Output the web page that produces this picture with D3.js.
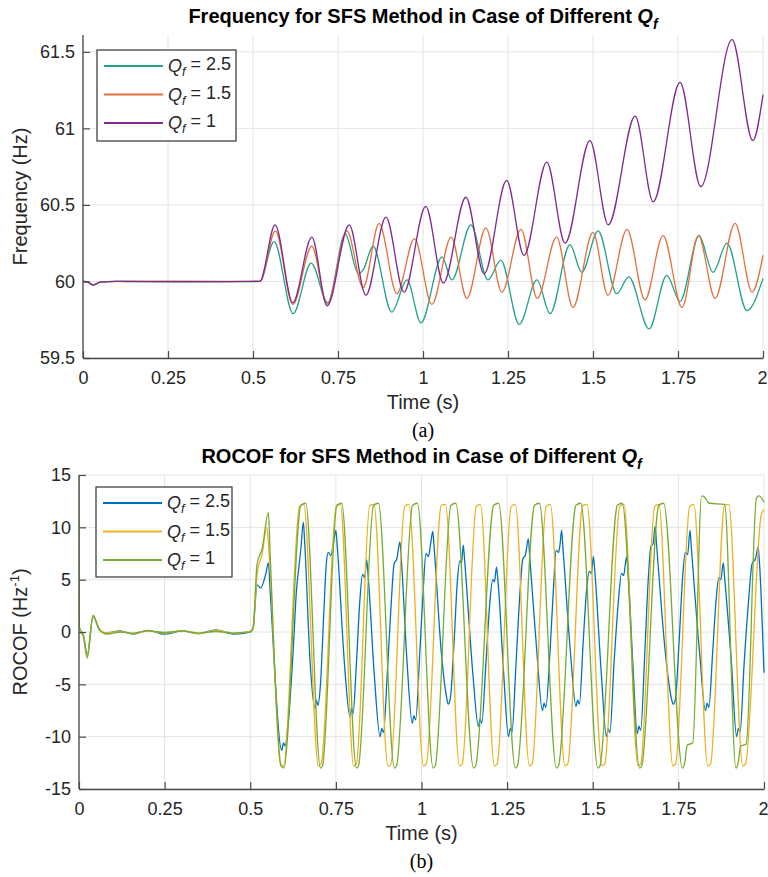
<!DOCTYPE html>
<html lang="en">
<head>
<meta charset="UTF-8">
<title>SFS Method - Frequency and ROCOF</title>
<script src="https://d3js.org/d3.v7.min.js"></script>
<style>
  body { margin: 0; background: #fff; }
  svg text { font-family: "Liberation Sans", Arial, Helvetica, sans-serif; }
  .caption { font-family: "Liberation Serif", "Times New Roman", serif !important; }
</style>
</head>
<body>
<svg id="chart" width="768" height="877"></svg>
<script>
// ---- data: [time (s), value] ----
const timeTicks = [0, 0.25, 0.5, 0.75, 1, 1.25, 1.5, 1.75, 2];
const freqTicks = [59.5, 60, 60.5, 61, 61.5];
const rocofTicks = [-15, -10, -5, 0, 5, 10, 15];
const qfLabels = ["2.5", "1.5", "1"];

// (a) frequency
const freqQf25 = [[0,60],[0.015,59.995],[0.03,59.978],[0.05,59.995],[0.1,60],[0.3,59.998],[0.52,60],
  [0.562,60.26],[0.618,59.79],[0.671,60.12],[0.72,59.86],[0.771,60.31],[0.81,60.05],[0.825,60.08],
  [0.853,60.23],[0.908,59.8],[0.953,60.01],[0.994,59.73],[1.056,60.16],[1.085,60.01],[1.141,60.37],
  [1.191,60.01],[1.229,60.14],[1.283,59.72],[1.335,60.01],[1.374,59.79],[1.432,60.24],[1.467,60.06],
  [1.515,60.33],[1.57,59.92],[1.605,60.03],[1.665,59.69],[1.717,60.04],[1.756,59.87],[1.812,60.3],
  [1.853,60.06],[1.894,60.25],[1.953,59.81],[2,60.02]];
const freqQf15 = [[0,60],[0.015,59.995],[0.03,59.978],[0.05,59.995],[0.1,60],[0.3,60.002],[0.52,60],
  [0.566,60.33],[0.617,59.85],[0.673,60.23],[0.718,59.85],[0.776,60.33],[0.824,59.96],[0.871,60.38],
  [0.923,59.92],[0.975,60.28],[1.026,59.85],[1.083,60.29],[1.129,59.89],[1.185,60.35],[1.232,59.93],
  [1.288,60.34],[1.336,59.89],[1.393,60.29],[1.441,59.83],[1.5,60.32],[1.544,59.91],[1.6,60.34],
  [1.653,59.88],[1.706,60.3],[1.762,59.83],[1.81,60.3],[1.859,59.89],[1.918,60.38],[1.968,59.93],[2,60.17]];
const freqQf1 = [[0,60],[0.015,59.995],[0.03,59.976],[0.05,59.995],[0.1,60],[0.3,59.999],[0.52,60],
  [0.565,60.37],[0.617,59.86],[0.673,60.29],[0.718,59.84],[0.783,60.37],[0.832,59.91],[0.891,60.42],
  [0.944,59.93],[1.008,60.49],[1.06,59.99],[1.126,60.55],[1.18,60.05],[1.246,60.66],[1.297,60.17],
  [1.364,60.78],[1.418,60.25],[1.491,60.92],[1.545,60.37],[1.624,61.08],[1.677,60.52],[1.756,61.3],
  [1.817,60.62],[1.909,61.58],[1.97,60.92],[2,61.22]];

// (b) ROCOF
const rocofQf25 = [[0,0],[0.012,-0.2],[0.024,-2.2],[0.041,1.5],[0.06,0.2],[0.08,-0.1],[0.12,0.1],[0.16,-0.2],
  [0.2,0.15],[0.25,-0.2],[0.3,0.1],[0.35,-0.15],[0.4,0.2],[0.45,-0.2],[0.5,0],[0.508,0.3],[0.52,4.5],
  [0.53,4.2],[0.545,5.5],[0.553,6.6],[0.558,4],
  [0.592,-11.3],[0.597,-10.6],[0.602,-10.9],[0.61,-9],[0.625,-2],[0.635,4],[0.642,6.2],[0.648,8],[0.655,10.5],[0.659,8.5],
  [0.675,-3],[0.689,-7.3],[0.693,-6.5],[0.698,-7],[0.705,-5],[0.715,2],[0.722,6.5],[0.728,7.6],[0.735,7.3],[0.743,8.5],[0.75,9.7],[0.754,8.2],
  [0.775,-3],[0.791,-8.1],[0.796,-7.3],[0.8,-7.8],[0.81,-3],[0.82,3],[0.828,5.5],[0.834,5.2],[0.84,6.9],[0.844,5.5],
  [0.862,-4],[0.879,-10],[0.884,-9.2],[0.889,-9.6],[0.9,-4],[0.912,3],[0.92,6.5],[0.928,7],[0.937,8.6],[0.941,7],
  [0.958,-3],[0.973,-8.7],[0.978,-8],[0.983,-8.4],[0.995,-2],[1.005,4],[1.013,7.5],[1.02,7.2],[1.027,8.5],[1.033,9.6],[1.037,8],
  [1.058,-2],[1.073,-6.2],[1.078,-6.9],[1.084,-6.4],[1.095,-1],[1.105,5],[1.112,6.8],[1.117,6.6],[1.122,8.3],[1.126,6.8],
  [1.15,-4],[1.166,-9],[1.171,-8.3],[1.176,-8.7],[1.188,-3],[1.2,3],[1.208,5],[1.213,4.8],[1.219,6.2],[1.223,5],
  [1.24,-4],[1.254,-10],[1.259,-9.2],[1.264,-9.6],[1.276,-3],[1.288,4],[1.296,7],[1.303,7.3],[1.312,8.9],[1.316,7.2],
  [1.337,-2],[1.353,-7.5],[1.358,-6.8],[1.363,-7.2],[1.375,-2],[1.385,4],[1.393,7.8],[1.4,7.6],[1.405,8.5],[1.409,9.7],[1.413,8],
  [1.435,-2],[1.451,-7.1],[1.456,-6.5],[1.461,-6.9],[1.472,-1],[1.482,4],[1.49,5.8],[1.496,5.6],[1.502,7.2],[1.506,5.8],
  [1.525,-4],[1.54,-10],[1.545,-9.2],[1.55,-9.6],[1.562,-3],[1.575,3],[1.584,5.6],[1.59,5.4],[1.599,7.2],[1.603,5.8],
  [1.617,-3],[1.63,-9.7],[1.635,-9],[1.64,-9.4],[1.652,-2],[1.662,5],[1.67,8.2],[1.676,8.4],[1.682,10.1],[1.686,8.5],
  [1.712,-2],[1.73,-6.4],[1.735,-6.9],[1.741,-6.5],[1.752,-1],[1.762,5],[1.77,7.6],[1.777,7.4],[1.784,9.7],[1.788,8],
  [1.812,-2],[1.829,-7.5],[1.834,-6.8],[1.839,-7.2],[1.85,-2],[1.86,3],[1.868,5.2],[1.874,5],[1.881,6.6],[1.885,5.2],
  [1.905,-3],[1.92,-10],[1.925,-9.2],[1.93,-9.6],[1.942,-3],[1.955,3],[1.965,6.5],[1.975,7],[1.983,8.1],[1.987,6.5],[2,-3.9]];
const rocofQf15 = [[0,0],[0.012,-0.3],[0.024,-2.3],[0.041,1.5],[0.06,0.3],[0.08,-0.1],[0.12,0.05],[0.16,-0.15],
  [0.2,0.1],[0.25,-0.1],[0.3,0.1],[0.35,-0.15],[0.4,0.15],[0.45,-0.1],[0.5,0.05],[0.508,0.3],[0.52,5.5],
  [0.535,7.5],[0.548,10],[0.556,7],
  [0.588,-12.6],[0.597,-12.8],[0.644,12],[0.656,12.2],
  [0.699,-12.8],[0.707,-12.6],[0.751,12],[0.763,12.2],
  [0.802,-12.8],[0.81,-12.6],[0.849,12.1],[0.861,12.2],
  [0.902,-12.8],[0.91,-12.7],[0.951,12],[0.963,12.2],
  [1.006,-12.8],[1.014,-12.6],[1.058,12.1],[1.07,12.2],
  [1.111,-12.8],[1.119,-12.6],[1.16,12],[1.172,12.2],
  [1.213,-12.8],[1.221,-12.6],[1.262,12],[1.274,12.2],
  [1.315,-12.8],[1.323,-12.6],[1.364,12],[1.376,12.2],
  [1.419,-12.8],[1.427,-12.6],[1.471,12.1],[1.483,12.2],
  [1.527,-12.8],[1.535,-12.6],[1.579,12],[1.591,12.2],
  [1.632,-12.8],[1.64,-12.6],[1.681,12],[1.693,12.2],
  [1.734,-12.8],[1.742,-12.6],[1.783,12],[1.795,12.2],
  [1.836,-12.8],[1.844,-12.6],[1.885,12.1],[1.897,12.2],
  [1.938,-12.8],[1.946,-12.6],[1.992,11.2],[2,11.7]];
const rocofQf1 = [[0,15],[0.001,0.5],[0.012,-0.3],[0.024,-2.5],[0.041,1.6],[0.06,0.2],[0.08,-0.2],[0.12,0],
  [0.16,-0.1],[0.2,0.1],[0.25,-0.05],[0.3,0.1],[0.35,-0.1],[0.4,0.05],[0.45,-0.1],[0.5,0],[0.508,0.4],
  [0.52,6.5],[0.535,8],[0.553,11.4],[0.558,7.5],
  [0.59,-12.8],[0.598,-13],[0.648,12.1],[0.662,12.3],
  [0.705,-13],[0.711,-12.8],[0.753,12.1],[0.767,12.3],
  [0.81,-13],[0.816,-12.8],[0.86,12.1],[0.874,12.3],
  [0.921,-13],[0.927,-12.8],[0.974,12.1],[0.988,12.3],
  [1.034,-13],[1.04,-12.8],[1.086,12.1],[1.1,12.3],
  [1.152,-13],[1.158,-12.8],[1.211,12.1],[1.225,12.3],
  [1.274,-13],[1.28,-12.8],[1.33,12.1],[1.344,12.3],
  [1.394,-13],[1.4,-12.8],[1.451,12.1],[1.465,12.3],
  [1.515,-13],[1.521,-12.8],[1.572,12.1],[1.586,12.3],
  [1.637,-13],[1.643,-12.8],[1.693,12.1],[1.707,12.3],
  [1.762,-13],[1.768,-12.6],[1.776,-10.8],[1.792,-10.6],
  [1.818,13],[1.826,12.9],[1.84,12.3],[1.885,12.2],
  [1.918,-13],[1.924,-12.6],[1.932,-10.9],[1.948,-10.7],
  [1.978,12.8],[1.986,13],[2,12.4]];

const freqColors = ["#23a08b", "#e2713f", "#7e2b8e"];
const rocofColors = ["#0072bd", "#edb120", "#77ac30"];

const svg = d3.select("#chart");
const axisColor = "#4a4a4a";
const textColor = "#262626";

function qfText(sel, label) {
  sel.append("tspan").attr("font-style", "italic").text("Q");
  sel.append("tspan").attr("font-style", "italic").attr("font-size", "0.7em").attr("dy", "0.35em").text("f");
  sel.append("tspan").attr("dy", "-0.35em").text(" = " + label);
}

function panel(cfg) {
  const x = d3.scaleLinear().domain([0, 2]).range([cfg.left, cfg.right]);
  const y = d3.scaleLinear().domain(cfg.yDomain).range([cfg.bottom, cfg.top]);
  const g = svg.append("g");

  // grid
  g.append("g").selectAll("line").data(timeTicks).enter().append("line")
    .attr("x1", d => x(d)).attr("x2", d => x(d))
    .attr("y1", cfg.top).attr("y2", cfg.bottom)
    .attr("stroke", "#e4e4e4").attr("stroke-width", 1);
  g.append("g").selectAll("line").data(cfg.yTicks).enter().append("line")
    .attr("x1", cfg.left).attr("x2", cfg.right)
    .attr("y1", d => y(d)).attr("y2", d => y(d))
    .attr("stroke", "#e4e4e4").attr("stroke-width", 1);

  // series
  const clipId = "clip-" + cfg.id;
  svg.append("clipPath").attr("id", clipId).append("rect")
    .attr("x", cfg.left).attr("y", cfg.top - 2)
    .attr("width", cfg.right - cfg.left + 1).attr("height", cfg.bottom - cfg.top + 2);
  const line = d3.line().x(d => x(d[0])).y(d => y(d[1])).curve(d3.curveMonotoneX);
  cfg.series.forEach(function(s, i) {
    g.append("path").datum(s)
      .attr("clip-path", "url(#" + clipId + ")")
      .attr("fill", "none")
      .attr("stroke", cfg.colors[i])
      .attr("stroke-width", 1.3)
      .attr("stroke-linejoin", "round")
      .attr("d", line);
  });

  // axes (ticks point inwards, matlab style)
  const xAxis = d3.axisBottom(x).tickValues(timeTicks).tickFormat(d => String(d))
    .tickSizeInner(-7).tickSizeOuter(0).tickPadding(13);
  const yAxis = d3.axisLeft(y).tickValues(cfg.yTicks).tickFormat(d => String(d))
    .tickSizeInner(-7).tickSizeOuter(0).tickPadding(8);
  const gx = g.append("g").attr("transform", `translate(0,${cfg.bottom})`).call(xAxis);
  const gy = g.append("g").attr("transform", `translate(${cfg.left},0)`).call(yAxis);
  gy.select(".domain").attr("d", `M0,${cfg.top}V${cfg.bottom}`);
  [gx, gy].forEach(function(a) {
    a.select(".domain").attr("stroke", axisColor).attr("stroke-width", 1.3);
    a.selectAll(".tick line").attr("stroke", axisColor).attr("stroke-width", 1.2);
    a.selectAll(".tick text").attr("fill", textColor).attr("font-size", 18)
      .attr("font-family", "Liberation Sans, Arial, sans-serif");
  });
  // last time label sits on the page edge, keep it inside
  gx.selectAll(".tick text").filter(d => d === 2).attr("text-anchor", "end").attr("dx", 4);

  // title
  const t = g.append("text").attr("x", (cfg.left + cfg.right) / 2).attr("y", cfg.top - 12)
    .attr("text-anchor", "middle").attr("font-size", 20).attr("font-weight", "bold").attr("fill", "#000");
  t.append("tspan").text(cfg.title + " ");
  t.append("tspan").attr("font-style", "italic").text("Q");
  t.append("tspan").attr("font-style", "italic").attr("font-size", 14).attr("dy", 6).text("f");

  // axis labels
  g.append("text").attr("x", (cfg.left + cfg.right) / 2).attr("y", cfg.bottom + 51)
    .attr("text-anchor", "middle").attr("font-size", 20).attr("fill", textColor).text("Time (s)");
  const yl = g.append("text")
    .attr("transform", `translate(${cfg.yLabelX},${(cfg.top + cfg.bottom) / 2}) rotate(-90)`)
    .attr("text-anchor", "middle").attr("font-size", 20).attr("fill", textColor);
  cfg.yLabel(yl);

  // caption
  g.append("text").attr("class", "caption").attr("x", (cfg.left + cfg.right) / 2).attr("y", cfg.bottom + 79)
    .attr("text-anchor", "middle").attr("font-size", 20).attr("fill", "#000").text(cfg.caption);

  // legend
  const lg = g.append("g").attr("transform", `translate(${cfg.left + cfg.legend[0]},${cfg.top + cfg.legend[1]})`);
  lg.append("rect").attr("width", cfg.legend[2]).attr("height", cfg.legend[3])
    .attr("fill", "#fff").attr("stroke", "#333").attr("stroke-width", 1.2);
  qfLabels.forEach(function(lab, i) {
    const yy = 16 + i * 28.5;
    lg.append("line").attr("x1", 7).attr("x2", 66).attr("y1", yy).attr("y2", yy)
      .attr("stroke", cfg.colors[i]).attr("stroke-width", 2);
    const tx = lg.append("text").attr("x", 71).attr("y", yy + 6)
      .attr("font-size", 18).attr("fill", textColor);
    qfText(tx, lab);
  });
}

panel({
  id: "a", left: 83, right: 763, top: 35, bottom: 358,
  yDomain: [59.5, 61.61], yTicks: freqTicks,
  series: [freqQf25, freqQf15, freqQf1], colors: freqColors,
  title: "Frequency for SFS Method in Case of Different",
  yLabelX: 27,
  yLabel: function(s) { s.text("Frequency (Hz)"); },
  caption: "(a)",
  legend: [14, 15, 139, 91]
});

panel({
  id: "b", left: 79, right: 764, top: 475, bottom: 789,
  yDomain: [-15, 15], yTicks: rocofTicks,
  series: [rocofQf25, rocofQf15, rocofQf1], colors: rocofColors,
  title: "ROCOF for SFS Method in Case of Different",
  yLabelX: 27,
  yLabel: function(s) {
    s.append("tspan").text("ROCOF (Hz");
    s.append("tspan").attr("font-size", 13).attr("dy", -8).text("-1");
    s.append("tspan").attr("dy", 8).text(")");
  },
  caption: "(b)",
  legend: [17, 12, 136, 90]
});
</script>
</body>
</html>
